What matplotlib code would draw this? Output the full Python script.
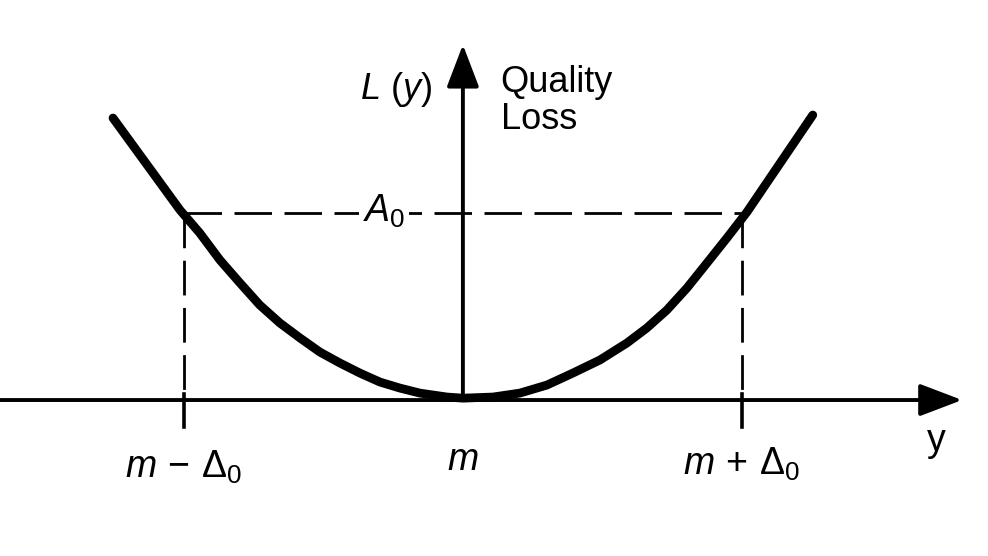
import matplotlib
matplotlib.use('Agg')
import matplotlib.pyplot as plt

# quality loss curve (m = 0, delta_0 = 1, A_0 = 1)
curve_x = [-1.254, -1.014, -0.943, -0.871, -0.799, -0.728, -0.656, -0.584, -0.513,
           -0.441, -0.369, -0.297, -0.226, -0.154, -0.057, 0.0,
           0.108, 0.204, 0.301, 0.394, 0.491, 0.588, 0.659, 0.731, 0.803, 0.875, 0.946,
           1.018, 1.254]
curve_y = [1.508, 1.016, 0.893, 0.749, 0.626, 0.508, 0.412, 0.332, 0.257,
           0.198, 0.144, 0.096, 0.064, 0.037, 0.016, 0.01,
           0.016, 0.037, 0.080, 0.144, 0.214, 0.305, 0.385, 0.481, 0.599, 0.733, 0.866,
           1.005, 1.524]

m = 0.0
delta0 = 1.0
A0 = 1.0
tick_pos = [m - delta0, m, m + delta0]
tick_labels = [r'$m\,-\,\Delta_0$', r'$m$', r'$m\,+\,\Delta_0$']

plt.rcParams['font.family'] = 'Liberation Sans'
plt.rcParams['mathtext.fontset'] = 'custom'
plt.rcParams['mathtext.it'] = 'Liberation Sans:italic'
plt.rcParams['mathtext.rm'] = 'Liberation Sans'

fig = plt.figure(figsize=(9.88, 5.56), dpi=100)
ax = fig.add_axes([0, 0, 1, 1])
ax.set_xlim(-1.659, 1.882)
ax.set_ylim(-0.834, 2.139)
ax.axis('off')

arrow = dict(arrowstyle='-|>,head_length=1.05,head_width=0.4', lw=2.8, color='black',
             mutation_scale=25, shrinkA=0, shrinkB=0)
ax.annotate('', xy=(1.789, 0), xytext=(-1.66, 0), arrowprops=arrow)
ax.annotate('', xy=(m, 1.90), xytext=(m, 0), arrowprops=arrow)

# dashed guides
ax.plot([m - delta0, m + delta0], [A0, A0], color='black', lw=2.0, dashes=(13.5, 4.5))
for xv in [m - delta0, m + delta0]:
    ax.plot([xv, xv], [A0, 0], color='black', lw=2.0, dashes=(12.5, 4.5))
    ax.plot([xv, xv], [0.03, -0.144], color='black', lw=2.6)

ax.plot(curve_x, curve_y, color='black', lw=6.3, solid_capstyle='round', solid_joinstyle='round')

ax.text(-0.283, 0.952, r'$A_0$', fontsize=27, ha='center', va='baseline',
        bbox=dict(facecolor='white', edgecolor='none', pad=3))

label_y = [-0.417, -0.374, -0.401]
for xv, yv, lab in zip(tick_pos, label_y, tick_labels):
    ax.text(xv, yv, lab, fontsize=27, ha='center', va='baseline')

ax.text(1.695, -0.22, 'y', fontsize=27, ha='center', va='center')
ax.text(-0.24, 1.66, r'$L$ $(y)$', fontsize=26, ha='center', va='center')
ax.text(0.135, 1.79, 'Quality\nLoss', fontsize=26, ha='left', va='top', linespacing=1.08)

fig.savefig('out.png', dpi=100)
